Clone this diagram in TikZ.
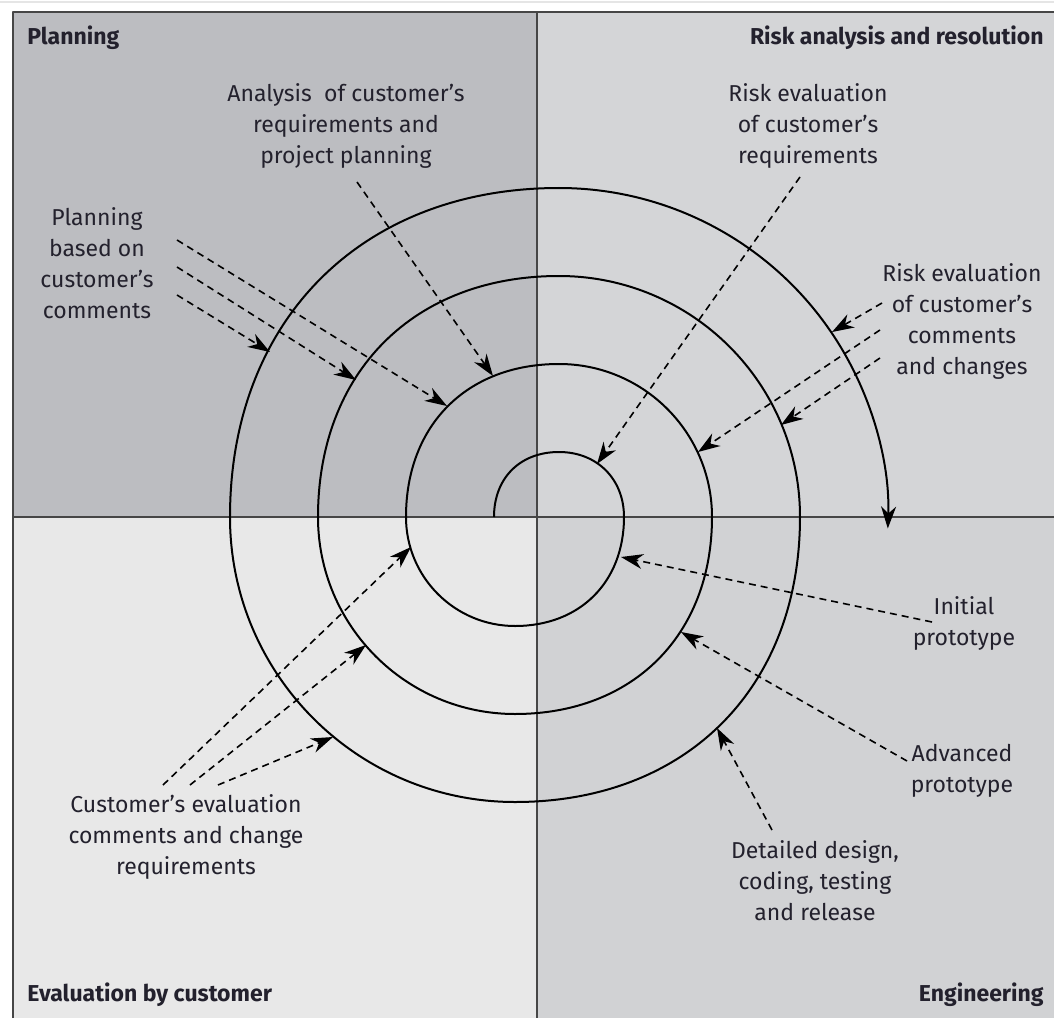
\documentclass[tikz,border=0pt]{standalone}
\usepackage{fontspec}
\setmainfont{Fira Sans}
\usetikzlibrary{arrows.meta}
\definecolor{planbg}{RGB}{188,189,193}
\definecolor{riskbg}{RGB}{212,213,215}
\definecolor{evalbg}{RGB}{232,232,232}
\definecolor{engbg}{RGB}{209,210,212}
\definecolor{axisgray}{RGB}{70,70,70}
\definecolor{txt}{RGB}{35,33,45}
\tikzset{
  frame/.style={draw=axisgray,line width=.8pt},
  axis/.style={draw=axisgray,line width=1.1pt},
  spiral/.style={line width=1pt,-{Stealth[length=11pt,width=7.5pt,inset=3.5pt]}},
  pointer/.style={line width=.8pt,dash pattern=on 3.5pt off 2.5pt,-{Stealth[length=11pt,width=7.5pt,inset=3.5pt]}},
  note/.style={font=\fontsize{11.5}{15.5}\selectfont,align=center,inner sep=0pt,anchor=north,text=txt},
  quadtitle/.style={font=\bfseries\fontsize{11.5}{14}\selectfont,inner sep=0pt,text=txt}
}
\begin{document}
\begin{tikzpicture}[x=.5pt,y=.5pt,join=round] % spiral model, origin where the axes cross
        \useasboundingbox (-537,-501) rectangle (517,517);
        \fill[white](-537,-501) rectangle (517,517);
        \draw[black!10,line width=1pt](-537,515)--(517,515);
        % the four phases
        \fill[planbg](-524,0) rectangle (0,505);
        \fill[riskbg](0,0) rectangle (517,505);
        \fill[evalbg](-524,-501) rectangle (0,0);
        \fill[engbg](0,-501) rectangle (517,0);
        \draw[frame](-524,-501)--(-524,505)--(517,505);
        \draw[axis](-524,0)--(517,0);
        \draw[axis](0,505)--(0,-501);
        % spiral: upper halves round (22,0), lower halves round (-22,0)
        \draw[spiral](-43,0)
                .. controls (-43,39) and (-17,65) .. (22,65)
                .. controls (60,65) and (87,38) .. (87,0)
                .. controls (87,-65) and (43,-109) .. (-22,-109)
                arc[start angle=270,end angle=180,radius=109]
                .. controls (-131,92) and (-70,153) .. (22,153)
                arc[start angle=90,end angle=0,radius=153]
                .. controls (175,-118) and (96,-197) .. (-22,-197)
                arc[start angle=270,end angle=180,radius=197]
                .. controls (-219,145) and (-123,241) .. (22,241)
                arc[start angle=90,end angle=0,radius=241]
                .. controls (263,-171) and (149,-285) .. (-22,-285)
                arc[start angle=270,end angle=180,radius=285]
                .. controls (-307,197) and (-175,329) .. (22,329)
                arc[start angle=90,end angle=-2,radius=329];
        % phase titles
        \node[quadtitle,anchor=base west] (tplan) at (-510,472) {Planning};
        \node[quadtitle,anchor=base east] (trisk) at (507,472) {Risk analysis and resolution};
        \node[quadtitle,anchor=base west] (teval) at (-510,-484) {Evaluation by customer};
        \node[quadtitle,anchor=base east] (teng) at (507,-484) {Engineering};
        % notes
        \node[note] (ana) at (-191,434) {Analysis~ of customer’s\\requirements and\\project planning};
        \node[note] (rreq) at (271,434) {Risk evaluation\\of customer’s\\requirements};
        \node[note] (plan) at (-440,310) {Planning\\based on\\customer’s\\comments};
        \node[note] (rcom) at (425,254) {Risk evaluation\\of customer’s\\comments\\and changes};
        \node[note] (init) at (427,-79) {Initial\\prototype};
        \node[note] (adv) at (425,-227) {Advanced\\prototype};
        \node[note] (det) at (278,-323) {Detailed design,\\coding, testing\\and release};
        \node[note] (cust) at (-351,-277) {Customer’s evaluation\\comments and change\\requirements};
        % pointer ends: 0 at the note, 1 on the spiral
        \coordinate (ana0) at (-180,335);  \coordinate (ana1) at (-44,141);
        \coordinate (rreq0) at (263,340);  \coordinate (rreq1) at (60,53);
        \coordinate (plana0) at (-360,277);  \coordinate (plana1) at (-90,111);
        \coordinate (planb0) at (-360,250);  \coordinate (planb1) at (-181,137);
        \coordinate (planc0) at (-360,222);  \coordinate (planc1) at (-267,165);
        \coordinate (rcoma0) at (345,214);  \coordinate (rcoma1) at (295,185);
        \coordinate (rcomb0) at (343,187);  \coordinate (rcomb1) at (161,65);
        \coordinate (rcomc0) at (343,159);  \coordinate (rcomc1) at (244,92);
        \coordinate (init0) at (395,-105);  \coordinate (init1) at (84,-40);
        \coordinate (adv0) at (370,-244);  \coordinate (adv1) at (144,-115);
        \coordinate (det0) at (235,-313);  \coordinate (det1) at (180,-211);
        \coordinate (custa0) at (-374,-268);  \coordinate (custa1) at (-126,-30);
        \coordinate (custb0) at (-347,-268);  \coordinate (custb1) at (-171,-128);
        \coordinate (custc0) at (-319,-268);  \coordinate (custc1) at (-204,-220);
        \draw[pointer](ana0)--(ana1);
        \draw[pointer](rreq0)--(rreq1);
        \draw[pointer](plana0)--(plana1);
        \draw[pointer](planb0)--(planb1);
        \draw[pointer](planc0)--(planc1);
        \draw[pointer](rcoma0)--(rcoma1);
        \draw[pointer](rcomb0)--(rcomb1);
        \draw[pointer](rcomc0)--(rcomc1);
        \draw[pointer](init0)--(init1);
        \draw[pointer](adv0)--(adv1);
        \draw[pointer](det0)--(det1);
        \draw[pointer](custa0)--(custa1);
        \draw[pointer](custb0)--(custb1);
        \draw[pointer](custc0)--(custc1);
\end{tikzpicture}
\end{document}
